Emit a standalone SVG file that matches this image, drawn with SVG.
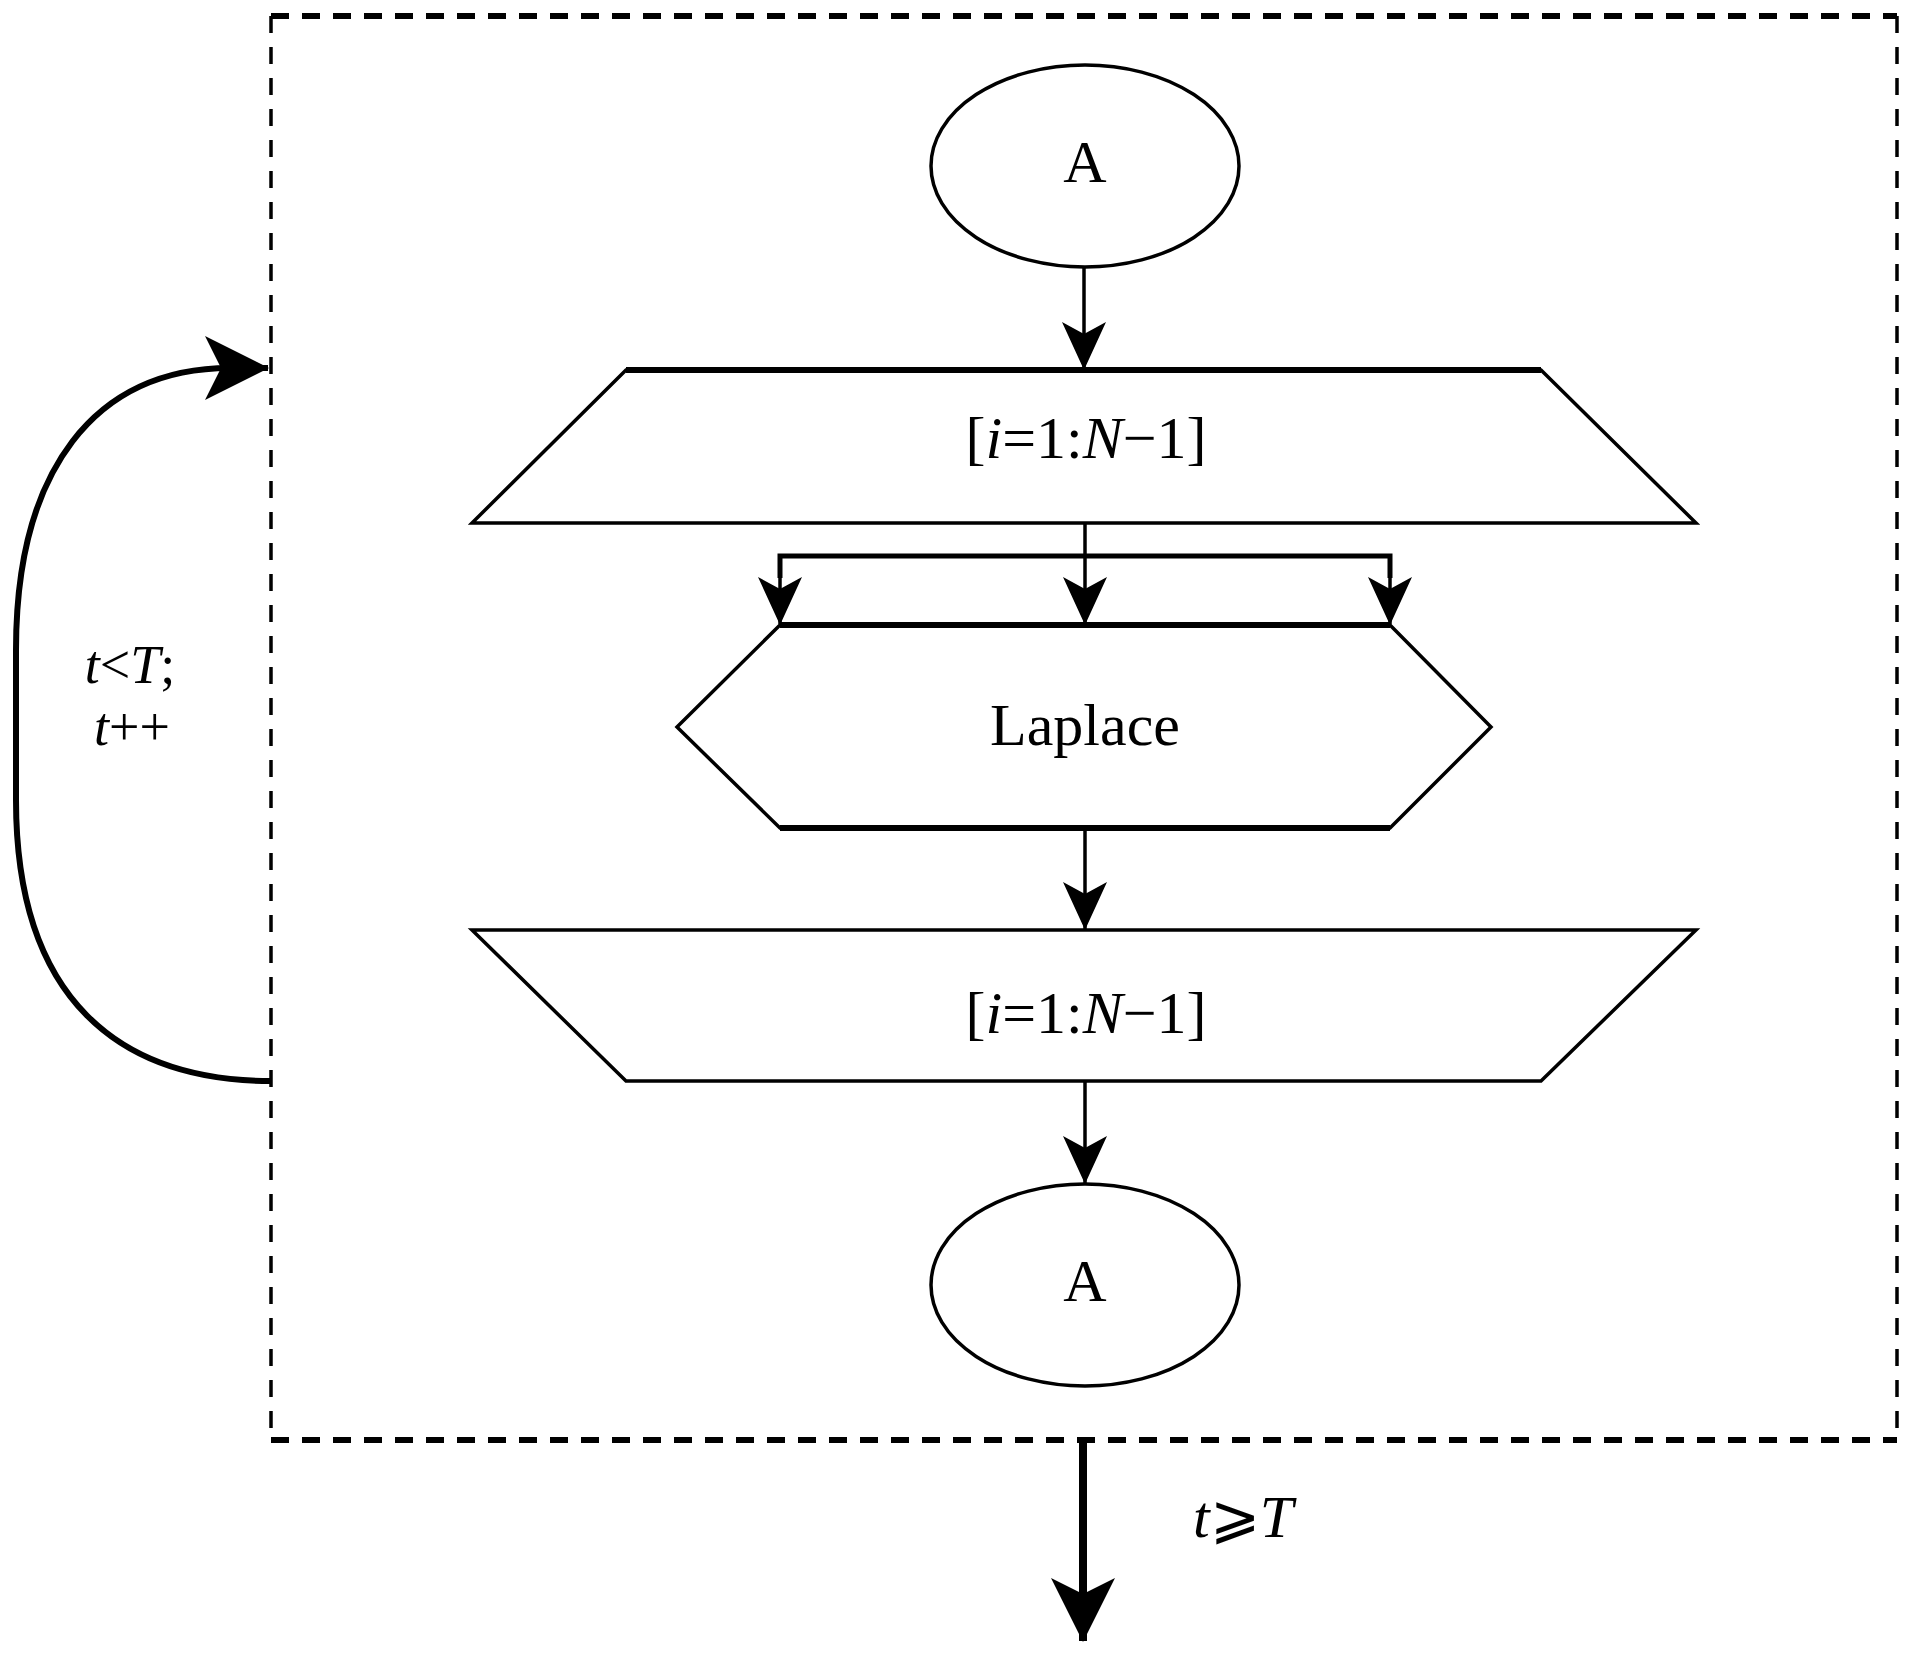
<svg xmlns="http://www.w3.org/2000/svg" width="1913" height="1654" viewBox="0 0 1913 1654">
<defs>
<style>
.shape{fill:#fff;stroke:#000;stroke-width:3.5;stroke-linejoin:miter}
.edge{fill:none;stroke:#000;stroke-width:6;stroke-linecap:butt}
.conn{fill:none;stroke:#000;stroke-width:3.5}
.lbl{font-family:"Liberation Serif","DejaVu Serif",serif;font-size:60px;fill:#000;text-anchor:middle}
.sm{font-size:54px}
.it{font-style:italic}
</style>
<marker id="ah" markerUnits="userSpaceOnUse" viewBox="0 0 48 44" markerWidth="48" markerHeight="44" refX="47" refY="22" orient="auto">
<path d="M0,0 L48,22 L0,44 L12,22 Z" fill="#000"/>
</marker>
<marker id="ahb" markerUnits="userSpaceOnUse" viewBox="0 0 64 64" markerWidth="64" markerHeight="64" refX="63" refY="32" orient="auto">
<path d="M0,0 L64,32 L0,64 L16,32 Z" fill="#000"/>
</marker>
</defs>
<rect width="1913" height="1654" fill="#fff"/>

<g id="loop-box">
<line x1="271" y1="16" x2="1897" y2="16" stroke="#000" stroke-width="6" stroke-dasharray="18 13"/>
<line x1="271" y1="1440" x2="1897" y2="1440" stroke="#000" stroke-width="6" stroke-dasharray="18 13"/>
<line x1="271" y1="16" x2="271" y2="1440" stroke="#000" stroke-width="3.5" stroke-dasharray="17 14"/>
<line x1="1897" y1="16" x2="1897" y2="1440" stroke="#000" stroke-width="3.5" stroke-dasharray="17 14"/>
</g>

<g id="start-A">
<ellipse class="shape" cx="1085" cy="166" rx="154" ry="101"/>
<text class="lbl" x="1085" y="182">A</text>
</g>

<g id="split">
<polygon class="shape" points="626,370 1541,370 1696,523 472,523"/>
<line class="edge" x1="626" y1="370" x2="1541" y2="370"/>
<text class="lbl" x="1086" y="458">[<tspan class="it">i</tspan>=1:<tspan class="it">N</tspan>−1]</text>
</g>

<g id="laplace">
<polygon class="shape" points="780,625 1390,625 1491,727 1390,828 780,828 677,727"/>
<line class="edge" x1="780" y1="625" x2="1390" y2="625"/>
<line class="edge" x1="780" y1="828" x2="1390" y2="828"/>
<text class="lbl" x="1085" y="745">Laplace</text>
</g>

<g id="merge">
<polygon class="shape" points="472,930 1696,930 1541,1081 626,1081"/>
<text class="lbl" x="1086" y="1033">[<tspan class="it">i</tspan>=1:<tspan class="it">N</tspan>−1]</text>
</g>

<g id="end-A">
<ellipse class="shape" cx="1085" cy="1285" rx="154" ry="101"/>
<text class="lbl" x="1085" y="1301">A</text>
</g>

<g id="connectors">
<line class="conn" x1="1084" y1="268" x2="1084" y2="369" marker-end="url(#ah)"/>
<line class="conn" x1="1085" y1="523" x2="1085" y2="556"/>
<polyline fill="none" stroke="#000" stroke-width="5" points="780,578 780,556 1390,556 1390,578"/>
<line class="conn" x1="780" y1="556" x2="780" y2="624" marker-end="url(#ah)"/>
<line class="conn" x1="1085" y1="556" x2="1085" y2="624" marker-end="url(#ah)"/>
<line class="conn" x1="1390" y1="556" x2="1390" y2="624" marker-end="url(#ah)"/>
<line class="conn" x1="1085" y1="828" x2="1085" y2="929" marker-end="url(#ah)"/>
<line class="conn" x1="1085" y1="1081" x2="1085" y2="1183" marker-end="url(#ah)"/>
<path d="M271,1081 C120,1081 16,1000 16,800 L16,650 C16,470 95,368 230,368 L268,368" fill="none" stroke="#000" stroke-width="6" marker-end="url(#ahb)"/>
<line x1="1083" y1="1440" x2="1083" y2="1641" stroke="#000" stroke-width="8" marker-end="url(#ahb)"/>
</g>

<g id="labels">
<text class="lbl sm" x="130" y="683"><tspan class="it">t</tspan>&lt;<tspan class="it">T</tspan>;</text>
<text class="lbl sm" x="132" y="745"><tspan class="it">t</tspan>++</text>
<text class="lbl" x="1243" y="1537"><tspan class="it">t</tspan>⩾<tspan class="it">T</tspan></text>
</g>
</svg>
